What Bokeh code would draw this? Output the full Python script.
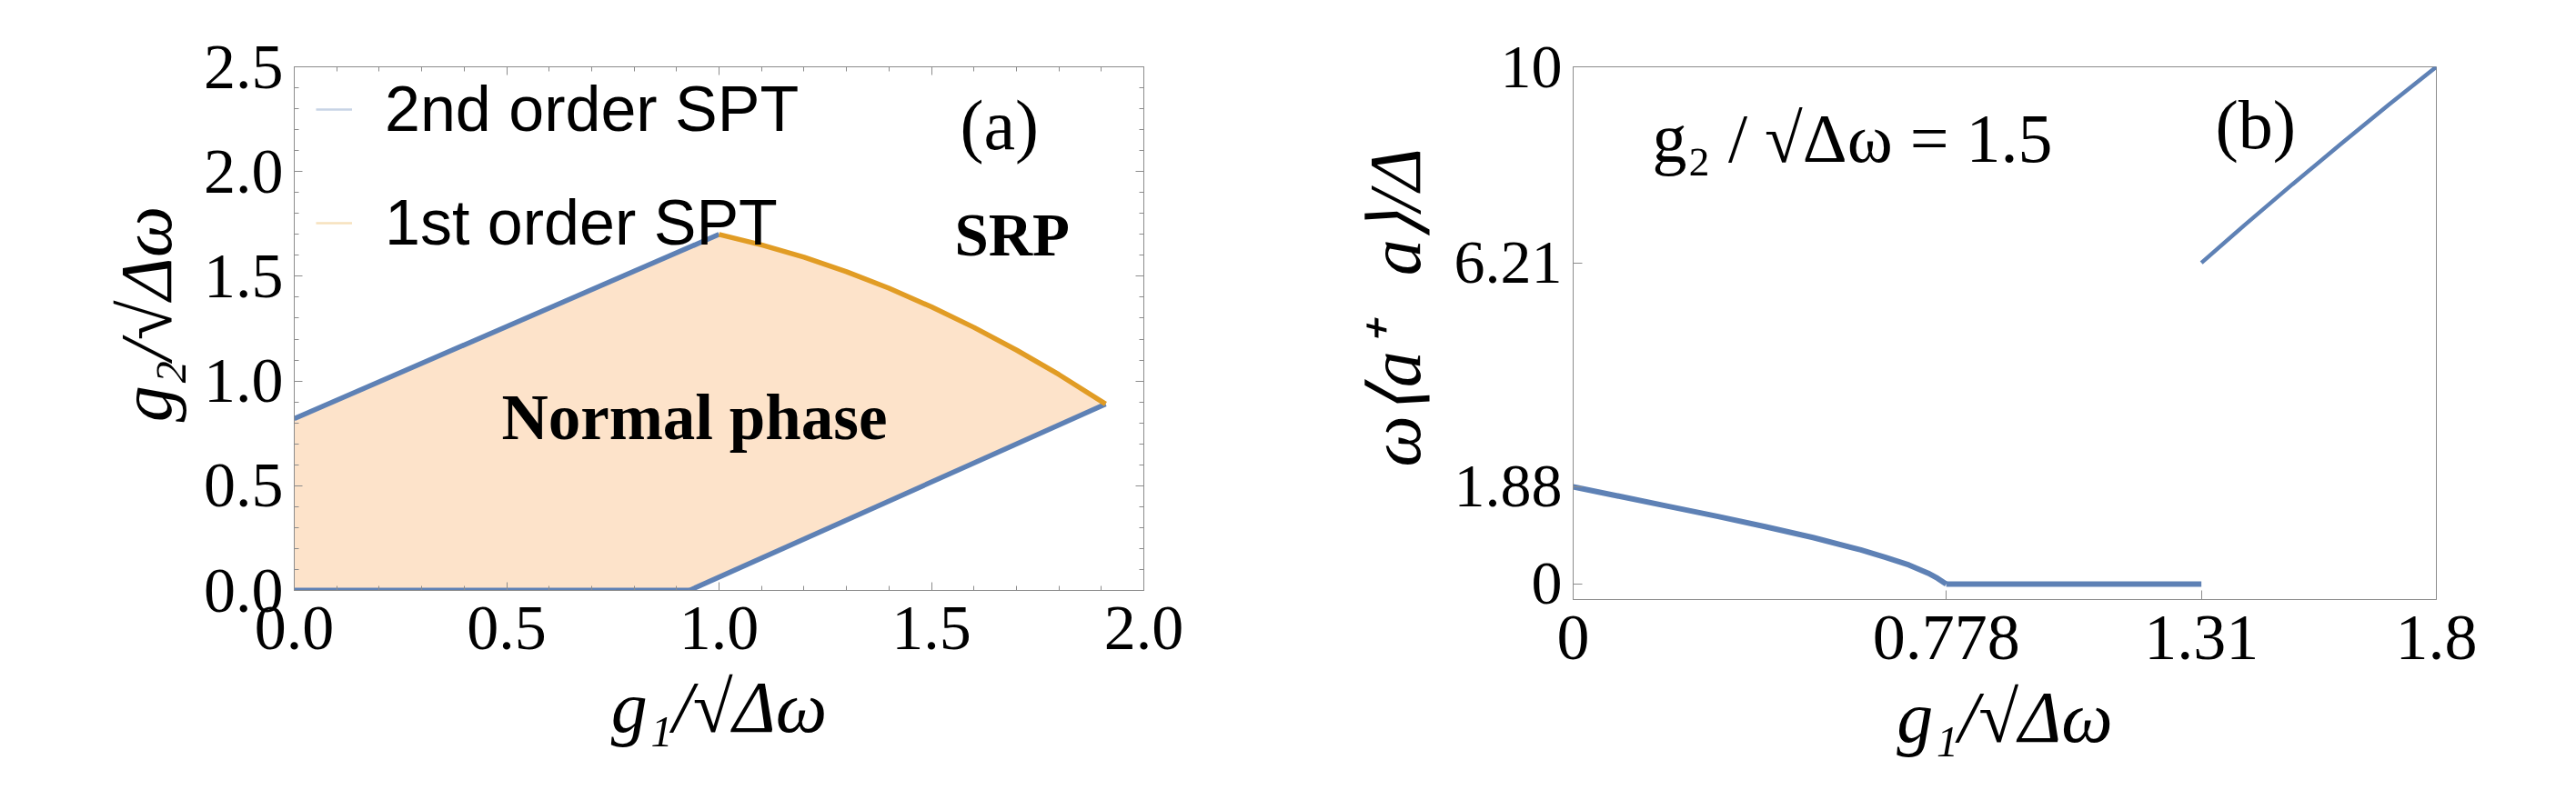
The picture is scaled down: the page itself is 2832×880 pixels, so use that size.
from bokeh.plotting import figure
from bokeh.layouts import row
from bokeh.models import (Legend, LegendItem, Label, LinearAxis, SingleIntervalTicker,
                          FixedTicker, CustomJSTickFormatter, Range1d)
from bokeh.embed import file_html
from bokeh.resources import INLINE

# ---------------- data: panel (a) phase diagram ----------------
a_upper_x = [0.0, 1.0]                       # 2nd order SPT (upper boundary)
a_upper_y = [0.82, 1.70]
a_first_x = [1.0, 1.1, 1.2, 1.3, 1.4, 1.5, 1.6, 1.7, 1.8, 1.91]   # 1st order SPT
a_first_y = [1.70, 1.650, 1.591, 1.522, 1.443, 1.354, 1.256, 1.148, 1.031, 0.89]
a_lower_x = [0.93, 1.91]                     # 2nd order SPT (lower boundary)
a_lower_y = [0.0, 0.89]
a_bottom_x = [0.0, 0.93]
a_bottom_y = [0.0, 0.0]
a_ticks = [0.0, 0.5, 1.0, 1.5, 2.0, 2.5]
a_tick_labels = ["0.0", "0.5", "1.0", "1.5", "2.0", "2.5"]

# ---------------- data: panel (b) photon number ----------------
b_low_x = [0.0, 0.1, 0.2, 0.3, 0.4, 0.5, 0.6, 0.65, 0.7, 0.74, 0.76, 0.778]
b_low_y = [1.88, 1.69, 1.50, 1.31, 1.11, 0.90, 0.66, 0.52, 0.37, 0.21, 0.11, 0.0]
b_flat_x = [0.778, 1.31]
b_flat_y = [0.0, 0.0]
b_up_x = [1.31, 1.4, 1.5, 1.6, 1.7, 1.8]
b_up_y = [6.21, 6.94, 7.73, 8.50, 9.26, 10.0]
b_x_ticks = [0.0, 0.778, 1.31, 1.8]
b_x_tick_labels = ["0", "0.778", "1.31", "1.8"]
b_y_ticks = [0.0, 1.88, 6.21, 10.0]
b_y_tick_labels = ["0", "1.88", "6.21", "10"]

BLUE = "#5E81B5"
ORANGE = "#E19C24"
FILL = "#FDE3CA"
GREY = "#8c8c8c"
SERIF = "Liberation Serif"


def fmt(ticks, labels):
    return CustomJSTickFormatter(args=dict(t=ticks, l=labels), code="""
        let best = 0;
        for (let i = 0; i < t.length; i++) {
            if (Math.abs(t[i] - tick) < Math.abs(t[best] - tick)) best = i;
        }
        return Math.abs(t[best] - tick) < 1e-6 ? l[best] : '';
    """)


def style_axis(ax, ticker, formatter, labels=True, major_in=9, minor_in=5, size="70px"):
    ax.ticker = ticker
    ax.formatter = formatter
    ax.axis_line_color = GREY
    ax.major_tick_line_color = GREY
    ax.minor_tick_line_color = GREY
    ax.major_tick_in = major_in
    ax.major_tick_out = 0
    ax.minor_tick_in = minor_in
    ax.minor_tick_out = 0
    ax.major_label_text_font = SERIF
    ax.major_label_text_font_size = size
    ax.major_label_text_color = "black" if labels else None
    ax.axis_label_text_font = SERIF
    ax.axis_label_text_font_size = "80px"
    ax.axis_label_text_font_style = "italic"
    ax.axis_label_text_color = "black"


# ---------------- panel (a) ----------------
pa = figure(frame_width=934, frame_height=576, x_range=Range1d(0, 2), y_range=Range1d(0, 2.5),
            min_border_left=323, min_border_right=100, min_border_top=73, min_border_bottom=231,
            output_backend="svg", toolbar_location=None)
pa.xgrid.visible = False
pa.ygrid.visible = False
pa.outline_line_color = GREY
pa.background_fill_color = "white"
pa.border_fill_color = "white"

poly_x = [0.0] + a_upper_x + a_first_x[1:] + a_lower_x[::-1][1:] + a_bottom_x[::-1][1:]
poly_y = [0.0] + a_upper_y + a_first_y[1:] + a_lower_y[::-1][1:] + a_bottom_y[::-1][1:]
pa.patch(poly_x, poly_y, fill_color=FILL, line_color=None)

# thin pale copies (hidden under the thick lines) that give the legend its faint glyphs
leg1 = pa.line(a_upper_x, a_upper_y, line_color=BLUE, line_alpha=0.35, line_width=2.5)
leg2 = pa.line(a_first_x, a_first_y, line_color=ORANGE, line_alpha=0.3, line_width=2.5)

pa.line(a_bottom_x, a_bottom_y, line_color=BLUE, line_width=6)
pa.line(a_upper_x, a_upper_y, line_color=BLUE, line_width=5.5)
pa.line(a_lower_x, a_lower_y, line_color=BLUE, line_width=5.5)
pa.line(a_first_x, a_first_y, line_color=ORANGE, line_width=5.5)

tick_a = lambda: SingleIntervalTicker(interval=0.5, num_minor_ticks=5)
style_axis(pa.xaxis[0], tick_a(), fmt(a_ticks, a_tick_labels))
style_axis(pa.yaxis[0], tick_a(), fmt(a_ticks, a_tick_labels))
pa.xaxis[0].axis_label = "g\u2081/\u221a\u0394\u03c9"
pa.yaxis[0].axis_label = "\u2009\u2009g\u2082/\u221a\u0394\u03c9"
pa.xaxis[0].major_label_standoff = 18
pa.yaxis[0].major_label_standoff = 12
pa.xaxis[0].axis_label_standoff = 17
pa.yaxis[0].axis_label_standoff = 16
ra = LinearAxis()
style_axis(ra, tick_a(), fmt(a_ticks, a_tick_labels), labels=False)
pa.add_layout(ra, "right")
ta = LinearAxis()
style_axis(ta, tick_a(), fmt(a_ticks, a_tick_labels), labels=False)
pa.add_layout(ta, "above")

legend = Legend(items=[LegendItem(label="2nd order SPT", renderers=[leg1]),
                       LegendItem(label="1st order SPT", renderers=[leg2])],
                location=(24, 364), orientation="vertical",
                border_line_color=None, background_fill_alpha=0,
                label_text_font="Liberation Sans", label_text_font_size="70px",
                label_text_color="black",
                glyph_width=40, glyph_height=80, label_height=80, label_standoff=36,
                spacing=45, padding=0, margin=0)
pa.add_layout(legend)

pa.add_layout(Label(x=1.66, y=2.222, text="(a)", text_font=SERIF, text_font_size="78px",
                    text_color="black", text_align="center", text_baseline="alphabetic"))
pa.add_layout(Label(x=1.69, y=1.70, text="SRP", text_font=SERIF, text_font_size="67px",
                    text_color="black", text_font_style="bold", text_align="center",
                    text_baseline="alphabetic"))
pa.add_layout(Label(x=0.942, y=0.828, text="Normal phase", text_font=SERIF, text_font_size="71px",
                    text_color="black", text_font_style="bold", text_align="center",
                    text_baseline="alphabetic"))

# ---------------- panel (b) ----------------
pb = figure(frame_width=949, frame_height=586, x_range=Range1d(0, 1.8), y_range=Range1d(-0.3, 10),
            min_border_left=372, min_border_right=154, min_border_top=67, min_border_bottom=227,
            output_backend="svg", toolbar_location=None)
pb.xgrid.visible = False
pb.ygrid.visible = False
pb.outline_line_color = GREY
pb.background_fill_color = "white"
pb.border_fill_color = "white"

pb.line(b_low_x, b_low_y, line_color=BLUE, line_width=6)
pb.line(b_flat_x, b_flat_y, line_color=BLUE, line_width=6)
pb.line(b_up_x, b_up_y, line_color=BLUE, line_width=4.5)

style_axis(pb.xaxis[0], FixedTicker(ticks=b_x_ticks), fmt(b_x_ticks, b_x_tick_labels),
           major_in=10, minor_in=0, size="72px")
style_axis(pb.yaxis[0], FixedTicker(ticks=b_y_ticks), fmt(b_y_ticks, b_y_tick_labels),
           major_in=10, minor_in=0, size="68px")
pb.xaxis[0].axis_label = "g\u2081/\u221a\u0394\u03c9"
pb.yaxis[0].axis_label = "\u2002\u2009\u03c9\u27e8a\u207a\u2002\u2009a\u27e9/\u0394"
pb.yaxis[0].axis_label_text_font_size = "80px"
pb.xaxis[0].major_label_standoff = 18
pb.yaxis[0].major_label_standoff = 12
pb.xaxis[0].axis_label_standoff = 17
pb.yaxis[0].axis_label_standoff = 18

pb.add_layout(Label(x=1.423, y=8.89, text="(b)", text_font=SERIF, text_font_size="76px",
                    text_color="black", text_align="center", text_baseline="alphabetic"))
pb.add_layout(Label(x=0.165, y=8.62, text="g\u2082 / \u221a\u0394\u03c9 = 1.5",
                    text_font=SERIF, text_font_size="76px", text_color="black",
                    text_align="left", text_baseline="alphabetic"))

layout = row(pa, pb)
open("out.html", "w").write(file_html(layout, INLINE))
